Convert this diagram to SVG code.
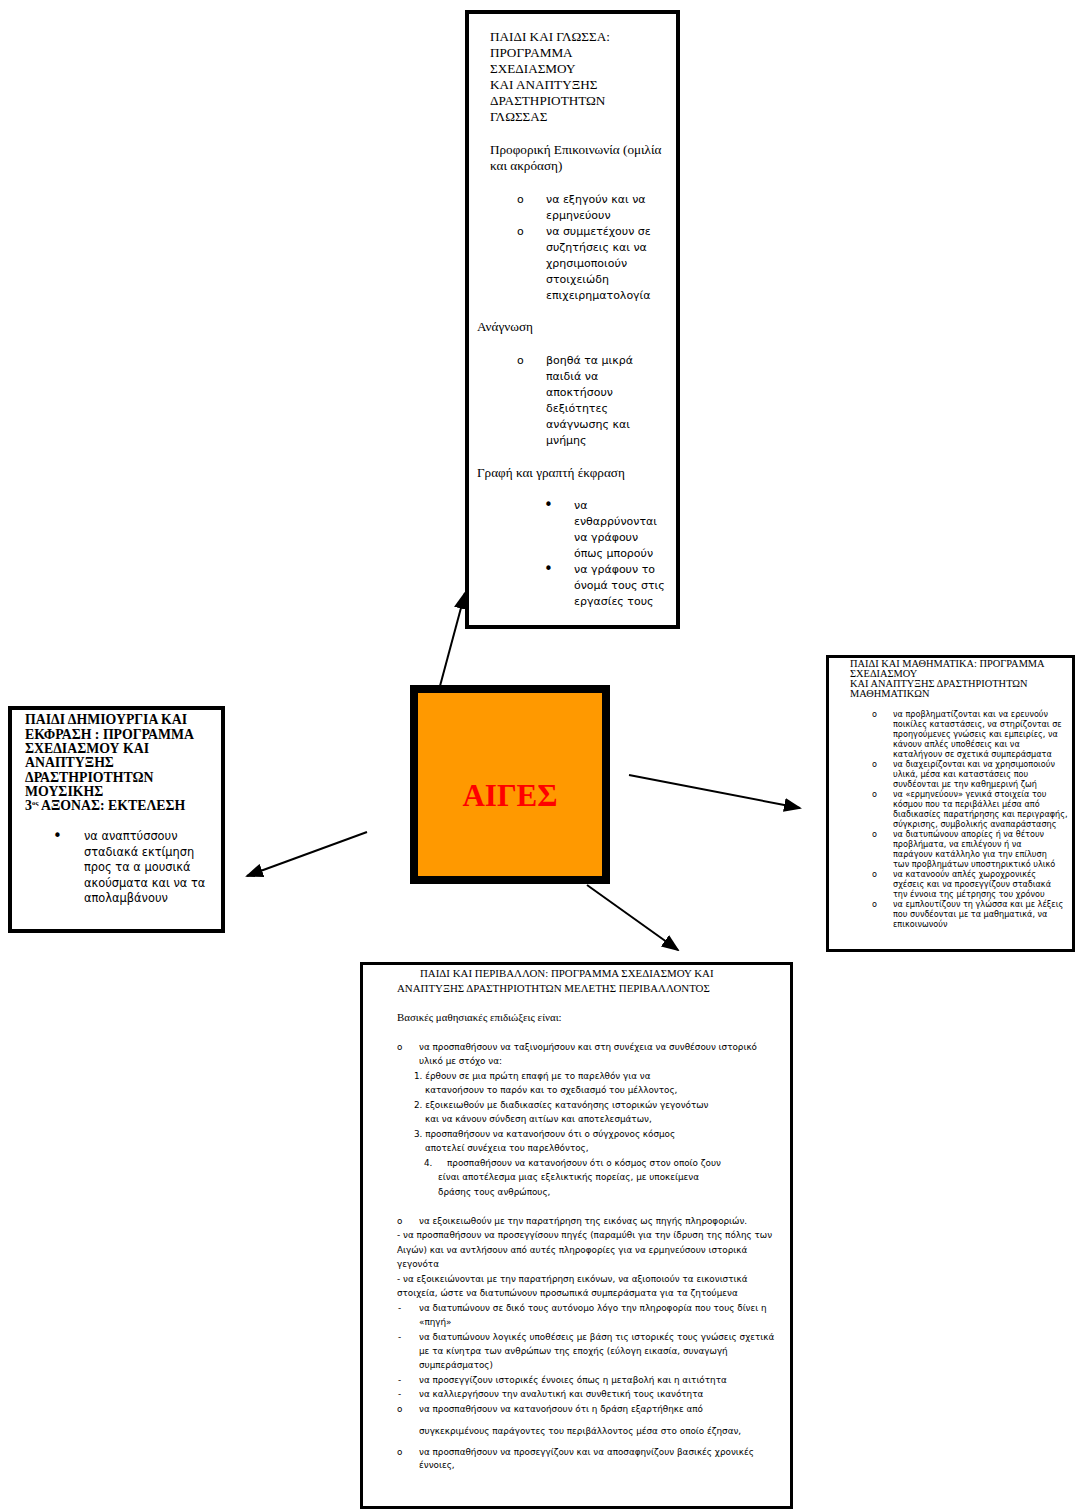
<svg xmlns="http://www.w3.org/2000/svg" width="1075" height="1510" viewBox="0 0 1075 1510">
<defs>
<marker id="ah" markerUnits="userSpaceOnUse" markerWidth="18" markerHeight="14" refX="16" refY="7" orient="auto">
<path d="M0,0 L18,7 L0,14 z" fill="#000"/>
</marker>
<style>
.box{fill:#fff;stroke:#000}
.sr{font-family:"Liberation Serif","Times New Roman",serif;fill:#000}
.sn{font-family:"DejaVu Sans",Verdana,sans-serif;fill:#000}
.t1{font-size:13.2px}
.b1{font-size:11px}
.lt{font-size:13.8px;font-weight:bold}
.lb{font-size:11.4px}
.rt{font-size:10.4px}
.rb{font-size:8.1px}
.bt{font-size:10.9px}
.bb{font-size:8.8px}
.conn{stroke:#000;stroke-width:2;fill:none;marker-end:url(#ah)}
</style>
</defs>
<rect width="1075" height="1510" fill="#fff"/>

<g id="connectors">
<path class="conn" d="M440,686 L465,593"/>
<path class="conn" d="M629,775 L800,808"/>
<path class="conn" d="M367,832 L247,876"/>
<path class="conn" d="M587,885 L678,950"/>
</g>

<g id="center">
<rect x="414" y="689" width="192" height="191" fill="#FF9900" stroke="#000" stroke-width="8"/>
<text x="510" y="806" text-anchor="middle" font-family="Liberation Serif,Times New Roman,serif" font-weight="bold" font-size="31" fill="#FF0000">ΑΙΓΕΣ</text>
</g>

<g id="language">
<rect class="box" x="467" y="12" width="211" height="615" stroke-width="4"/>
<g class="sr t1">
<text x="490" y="41">ΠΑΙΔΙ ΚΑΙ ΓΛΩΣΣΑ:</text>
<text x="490" y="57">ΠΡΟΓΡΑΜΜΑ</text>
<text x="490" y="73">ΣΧΕΔΙΑΣΜΟΥ</text>
<text x="490" y="89">ΚΑΙ ΑΝΑΠΤΥΞΗΣ</text>
<text x="490" y="105">ΔΡΑΣΤΗΡΙΟΤΗΤΩΝ</text>
<text x="490" y="121">ΓΛΩΣΣΑΣ</text>
<text x="490" y="154">Προφορική Επικοινωνία (ομιλία</text>
<text x="490" y="170">και ακρόαση)</text>
<text x="477" y="331">Ανάγνωση</text>
<text x="477" y="477">Γραφή και γραπτή έκφραση</text>
</g>
<g class="sn b1">
<text x="517" y="203">o</text>
<text x="546" y="203">να εξηγούν και να</text>
<text x="546" y="219">ερμηνεύουν</text>
<text x="517" y="235">o</text>
<text x="546" y="235">να συμμετέχουν σε</text>
<text x="546" y="251">συζητήσεις και να</text>
<text x="546" y="267">χρησιμοποιούν</text>
<text x="546" y="283">στοιχειώδη</text>
<text x="546" y="299">επιχειρηματολογία</text>
<text x="517" y="364">o</text>
<text x="546" y="364">βοηθά τα μικρά</text>
<text x="546" y="380">παιδιά να</text>
<text x="546" y="396">αποκτήσουν</text>
<text x="546" y="412">δεξιότητες</text>
<text x="546" y="428">ανάγνωσης και</text>
<text x="546" y="444">μνήμης</text>
<text x="544" y="510" font-size="15">•</text>
<text x="574" y="509">να</text>
<text x="574" y="525">ενθαρρύνονται</text>
<text x="574" y="541">να γράφουν</text>
<text x="574" y="557">όπως μπορούν</text>
<text x="544" y="574" font-size="15">•</text>
<text x="574" y="573">να γράφουν το</text>
<text x="574" y="589">όνομά τους στις</text>
<text x="574" y="605">εργασίες τους</text>
</g>
</g>

<g id="music">
<rect class="box" x="10" y="708" width="213" height="223" stroke-width="4"/>
<g class="sr lt">
<text x="25" y="724">ΠΑΙΔΙ ΔΗΜΙΟΥΡΓΙΑ ΚΑΙ</text>
<text x="25" y="739">ΕΚΦΡΑΣΗ : ΠΡΟΓΡΑΜΜΑ</text>
<text x="25" y="753">ΣΧΕΔΙΑΣΜΟΥ ΚΑΙ</text>
<text x="25" y="767">ΑΝΑΠΤΥΞΗΣ</text>
<text x="25" y="782">ΔΡΑΣΤΗΡΙΟΤΗΤΩΝ</text>
<text x="25" y="796">ΜΟΥΣΙΚΗΣ</text>
<text x="25" y="810">3<tspan font-size="7" dy="-5">ος</tspan><tspan dy="5"> ΑΞΟΝΑΣ: ΕΚΤΕΛΕΣΗ</tspan></text>
</g>
<g class="sn lb">
<text x="53" y="841" font-size="15">•</text>
<text x="84" y="840">να αναπτύσσουν</text>
<text x="84" y="856">σταδιακά εκτίμηση</text>
<text x="84" y="871">προς τα α μουσικά</text>
<text x="84" y="887">ακούσματα και να τα</text>
<text x="84" y="902">απολαμβάνουν</text>
</g>
</g>

<g id="maths">
<rect class="box" x="827.5" y="656.5" width="246" height="294" stroke-width="3"/>
<g class="sr rt">
<text x="850" y="666.5">ΠΑΙΔΙ ΚΑΙ ΜΑΘΗΜΑΤΙΚΑ: ΠΡΟΓΡΑΜΜΑ</text>
<text x="850" y="676.5">ΣΧΕΔΙΑΣΜΟΥ</text>
<text x="850" y="687">ΚΑΙ ΑΝΑΠΤΥΞΗΣ ΔΡΑΣΤΗΡΙΟΤΗΤΩΝ</text>
<text x="850" y="696.5">ΜΑΘΗΜΑΤΙΚΩΝ</text>
</g>
<g class="sn rb">
<text x="872" y="717">o</text>
<text x="893" y="717">να προβληματίζονται και να ερευνούν</text>
<text x="893" y="727">ποικίλες καταστάσεις, να στηρίζονται σε</text>
<text x="893" y="737">προηγούμενες γνώσεις και εμπειρίες, να</text>
<text x="893" y="747">κάνουν απλές υποθέσεις και να</text>
<text x="893" y="757">καταλήγουν σε σχετικά συμπεράσματα</text>
<text x="872" y="767">o</text>
<text x="893" y="767">να διαχειρίζονται και να χρησιμοποιούν</text>
<text x="893" y="777">υλικά, μέσα και καταστάσεις που</text>
<text x="893" y="787">συνδέονται με την καθημερινή ζωή</text>
<text x="872" y="797">o</text>
<text x="893" y="797">να «ερμηνεύουν» γενικά στοιχεία του</text>
<text x="893" y="807">κόσμου που τα περιβάλλει μέσα από</text>
<text x="893" y="817">διαδικασίες παρατήρησης και περιγραφής,</text>
<text x="893" y="827">σύγκρισης, συμβολικής αναπαράστασης</text>
<text x="872" y="837">o</text>
<text x="893" y="837">να διατυπώνουν απορίες ή να θέτουν</text>
<text x="893" y="847">προβλήματα, να επιλέγουν ή να</text>
<text x="893" y="857">παράγουν κατάλληλο για την επίλυση</text>
<text x="893" y="867">των προβλημάτων υποστηρικτικό υλικό</text>
<text x="872" y="877">o</text>
<text x="893" y="877">να κατανοούν απλές χωροχρονικές</text>
<text x="893" y="887">σχέσεις και να προσεγγίζουν σταδιακά</text>
<text x="893" y="897">την έννοια της μέτρησης του χρόνου</text>
<text x="872" y="907">o</text>
<text x="893" y="907">να εμπλουτίζουν τη γλώσσα και με λέξεις</text>
<text x="893" y="917">που συνδέονται με τα μαθηματικά, να</text>
<text x="893" y="927">επικοινωνούν</text>
</g>
</g>

<g id="environment">
<rect class="box" x="361.5" y="963.5" width="430" height="544" stroke-width="3"/>
<g class="sr bt">
<text x="420" y="977">ΠΑΙΔΙ ΚΑΙ ΠΕΡΙΒΑΛΛΟΝ: ΠΡΟΓΡΑΜΜΑ ΣΧΕΔΙΑΣΜΟΥ ΚΑΙ</text>
<text x="397" y="992">ΑΝΑΠΤΥΞΗΣ ΔΡΑΣΤΗΡΙΟΤΗΤΩΝ ΜΕΛΕΤΗΣ ΠΕΡΙΒΑΛΛΟΝΤΟΣ</text>
<text x="397" y="1021">Βασικές μαθησιακές επιδιώξεις είναι:</text>
</g>
<g class="sn bb">
<text x="397" y="1049.5">o</text>
<text x="419" y="1049.5">να προσπαθήσουν να ταξινομήσουν και στη συνέχεια να συνθέσουν ιστορικό</text>
<text x="419" y="1063.5">υλικό με στόχο να:</text>
<text x="414" y="1078.5">1. έρθουν σε μια πρώτη επαφή με  το παρελθόν για να</text>
<text x="425" y="1092.5">κατανοήσουν το παρόν και το σχεδιασμό του μέλλοντος,</text>
<text x="414" y="1107.5">2. εξοικειωθούν με διαδικασίες κατανόησης ιστορικών γεγονότων</text>
<text x="425" y="1121.5">και να κάνουν  σύνδεση αιτίων και αποτελεσμάτων,</text>
<text x="414" y="1136.5">3. προσπαθήσουν να κατανοήσουν ότι ο σύγχρονος κόσμος</text>
<text x="425" y="1150.5">αποτελεί συνέχεια  του παρελθόντος,</text>
<text x="424" y="1165.5">4.</text>
<text x="447" y="1165.5">προσπαθήσουν να κατανοήσουν ότι ο κόσμος στον οποίο ζουν</text>
<text x="438" y="1179.5">είναι αποτέλεσμα μιας εξελικτικής πορείας, με υποκείμενα</text>
<text x="438" y="1194.5">δράσης  τους ανθρώπους,</text>
<text x="397" y="1223.5">o</text>
<text x="419" y="1223.5">να εξοικειωθούν με την παρατήρηση της εικόνας ως πηγής πληροφοριών.</text>
<text x="397" y="1237.5">- να προσπαθήσουν να προσεγγίσουν  πηγές (παραμύθι για την ίδρυση της πόλης των</text>
<text x="397" y="1252.5">Αιγών) και να αντλήσουν από αυτές πληροφορίες για να ερμηνεύσουν ιστορικά</text>
<text x="397" y="1266.5">γεγονότα</text>
<text x="397" y="1281.5">- να εξοικειώνονται με την παρατήρηση εικόνων, να αξιοποιούν τα εικονιστικά</text>
<text x="397" y="1295.5">στοιχεία, ώστε να διατυπώνουν προσωπικά συμπεράσματα για τα ζητούμενα</text>
<text x="398" y="1310.5">-</text>
<text x="419" y="1310.5">να διατυπώνουν σε δικό τους αυτόνομο λόγο την πληροφορία που τους δίνει η</text>
<text x="419" y="1324.5">«πηγή»</text>
<text x="398" y="1339.5">-</text>
<text x="419" y="1339.5">να διατυπώνουν λογικές υποθέσεις με βάση τις ιστορικές τους γνώσεις σχετικά</text>
<text x="419" y="1353.5">με τα κίνητρα των ανθρώπων της εποχής (εύλογη εικασία, συναγωγή</text>
<text x="419" y="1367.5">συμπεράσματος)</text>
<text x="398" y="1382.5">-</text>
<text x="419" y="1382.5">να προσεγγίζουν ιστορικές έννοιες όπως η μεταβολή και η αιτιότητα</text>
<text x="398" y="1396.5">-</text>
<text x="419" y="1396.5">να καλλιεργήσουν την αναλυτική και συνθετική τους ικανότητα</text>
<text x="397" y="1411.5">o</text>
<text x="419" y="1411.5">να προσπαθήσουν να κατανοήσουν ότι η δράση εξαρτήθηκε από</text>
<text x="419" y="1433.5">συγκεκριμένους παράγοντες του περιβάλλοντος μέσα στο οποίο έζησαν,</text>
<text x="397" y="1454.5">o</text>
<text x="419" y="1454.5">να προσπαθήσουν να προσεγγίζουν και να αποσαφηνίζουν βασικές χρονικές</text>
<text x="419" y="1467.5">έννοιες,</text>
</g>
</g>
</svg>
